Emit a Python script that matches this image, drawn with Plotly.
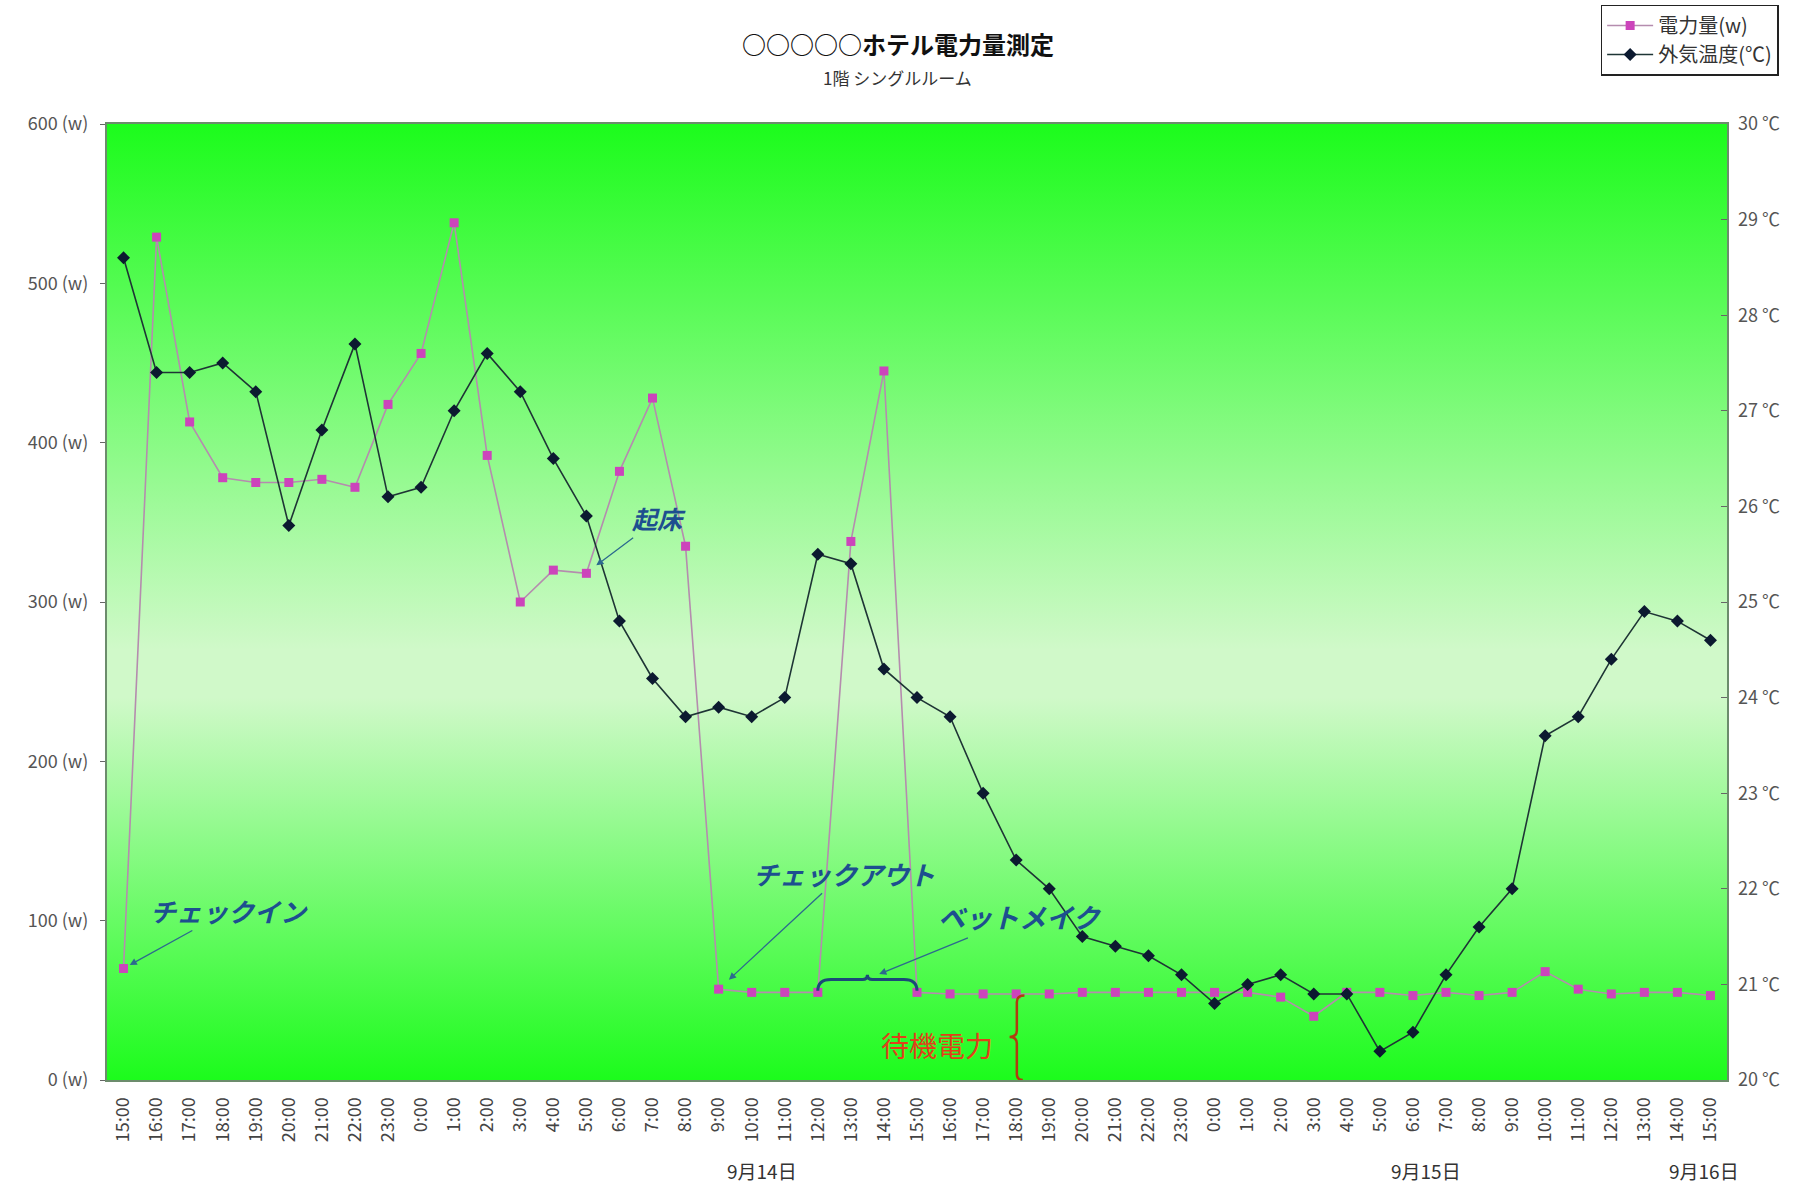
import base64
import plotly.graph_objects as go

# Hourly readings, 15:00 on 9/13 through 15:00 on 9/16
times = [
    "15:00", "16:00", "17:00", "18:00", "19:00", "20:00", "21:00", "22:00", "23:00",
    "0:00", "1:00", "2:00", "3:00", "4:00", "5:00", "6:00", "7:00", "8:00", "9:00",
    "10:00", "11:00", "12:00", "13:00", "14:00", "15:00", "16:00", "17:00", "18:00",
    "19:00", "20:00", "21:00", "22:00", "23:00", "0:00", "1:00", "2:00", "3:00",
    "4:00", "5:00", "6:00", "7:00", "8:00", "9:00", "10:00", "11:00", "12:00",
    "13:00", "14:00", "15:00",
]

# 電力量 (W)
power_w = [
    70, 529, 413, 378, 375, 375, 377, 372, 424,
    456, 538, 392, 300, 320, 318, 382, 428, 335, 57,
    55, 55, 55, 338, 445, 55, 54, 54, 54,
    54, 55, 55, 55, 55, 55, 55, 52, 40,
    55, 55, 53, 55, 53, 55, 68, 57, 54,
    55, 55, 53,
]

# 外気温度 (°C)
temp_c = [
    28.6, 27.4, 27.4, 27.5, 27.2, 25.8, 26.8, 27.7, 26.1,
    26.2, 27.0, 27.6, 27.2, 26.5, 25.9, 24.8, 24.2, 23.8, 23.9,
    23.8, 24.0, 25.5, 25.4, 24.3, 24.0, 23.8, 23.0, 22.3,
    22.0, 21.5, 21.4, 21.3, 21.1, 20.8, 21.0, 21.1, 20.9,
    20.9, 20.3, 20.5, 21.1, 21.6, 22.0, 23.6, 23.8, 24.4,
    24.9, 24.8, 24.6,
]

date_labels = ["9月14日", "9月15日", "9月16日"]

x = list(range(len(times)))
FONT = "Noto Sans CJK JP"
NOTE_BLUE = "#1d4f8f"

fig = go.Figure()

fig.add_trace(go.Scatter(
    x=x, y=power_w, name="電力量(w)", mode="lines+markers",
    line=dict(color="#b58cae", width=1.6),
    marker=dict(symbol="square", size=9, color="#cc44bb"),
))
fig.add_trace(go.Scatter(
    x=x, y=temp_c, name="外気温度(℃)", mode="lines+markers", yaxis="y2",
    line=dict(color="#1e3535", width=1.6),
    marker=dict(symbol="diamond", size=10, color="#0c1a30"),
))

# Plot-area background: green -> pale green -> green vertical gradient
svg = (
    '<svg xmlns="http://www.w3.org/2000/svg" width="100" height="100" '
    'preserveAspectRatio="none" viewBox="0 0 100 100">'
    '<defs><linearGradient id="g" x1="0" y1="0" x2="0" y2="1">'
    '<stop offset="0" stop-color="#1cfc1c"/>'
    '<stop offset="0.55" stop-color="#d0f9c9"/>'
    '<stop offset="0.6" stop-color="#d0f9c9"/>'
    '<stop offset="1" stop-color="#1cfc1c"/>'
    '</linearGradient></defs>'
    '<rect x="0" y="0" width="100" height="100" fill="url(#g)"/></svg>'
)
bg_src = "data:image/svg+xml;base64," + base64.b64encode(svg.encode()).decode()
fig.add_layout_image(dict(
    source=bg_src, xref="paper", yref="paper", x=0, y=1, sizex=1, sizey=1,
    sizing="stretch", xanchor="left", yanchor="top", layer="below",
))

# Brace over the bed-making hours and the standby-power brace
fig.add_shape(
    type="path", xref="x", yref="y",
    path="M 21,56 Q 21,63 21.4,63 L 22.35,63 Q 22.5,63 22.5,66 "
         "Q 22.5,63 22.65,63 L 23.6,63 Q 24,63 24,56",
    line=dict(color="#1b4a78", width=3),
)
fig.add_shape(
    type="path", xref="x", yref="y",
    path="M 27.25,53 Q 27.02,53 27.02,49 L 27.02,31 Q 27.02,27 26.8,27 "
         "Q 27.02,27 27.02,23 L 27.02,4 Q 27.02,0 27.2,0",
    line=dict(color="#b03c10", width=2.5),
)

notes = [
    dict(text="<b><i>チェックイン</i></b>", x=0, y=power_w[0], ax=105, ay=-58, standoff=7, size=26),
    dict(text="<b><i>起床</i></b>", x=14.3, y=323, ax=63, ay=-47, standoff=0, size=25),
    dict(text="<b><i>チェックアウト</i></b>", x=18, y=power_w[18], ax=125, ay=-116, standoff=14, size=26),
    dict(text="<b><i>ベットメイク</i></b>", x=22.8, y=66, ax=142, ay=-58, standoff=2, size=27),
]
for n in notes:
    fig.add_annotation(
        x=n["x"], y=n["y"], xref="x", yref="y", text=n["text"],
        ax=n["ax"], ay=n["ay"], showarrow=True, arrowhead=2, arrowsize=1.1,
        arrowwidth=1.3, arrowcolor="#2c6a8e", standoff=n["standoff"],
        font=dict(family=FONT, size=n["size"], color=NOTE_BLUE),
    )

fig.add_annotation(
    x=24.6, y=22, xref="x", yref="y", text="待機電力", showarrow=False,
    font=dict(family=FONT, size=28, color="#e0401a"),
)

# Date labels under the hour ticks
for label, pos in zip(date_labels, [19.3, 39.4, 47.8]):
    fig.add_annotation(
        x=pos, y=-0.095, xref="x", yref="paper", text=label, showarrow=False,
        xanchor="center", yanchor="middle",
        font=dict(family=FONT, size=19, color="#333333"),
    )

# Title and subtitle
fig.add_annotation(
    x=0.488, y=1.084, xref="paper", yref="paper", text="<b>○○○○○ホテル電力量測定</b>",
    showarrow=False, xanchor="center", yanchor="middle",
    font=dict(family=FONT, size=24, color="#111111"),
)
fig.add_annotation(
    x=0.488, y=1.049, xref="paper", yref="paper", text="1階 シングルルーム",
    showarrow=False, xanchor="center", yanchor="middle",
    font=dict(family=FONT, size=17, color="#333333"),
)

fig.update_layout(
    width=1797, height=1185,
    margin=dict(l=107, r=70, t=124, b=105, autoexpand=False),
    paper_bgcolor="white", plot_bgcolor="rgba(0,0,0,0)",
    font=dict(family=FONT, color="#444444"),
    showlegend=True,
    legend=dict(
        x=0.922, y=1.125, xanchor="left", yanchor="top",
        bgcolor="white", bordercolor="#222222", borderwidth=1.5,
        font=dict(family=FONT, size=20, color="#333333"),
        tracegroupgap=0, itemwidth=46,
    ),
    xaxis=dict(
        range=[-0.5, len(times) - 0.5], tickmode="array", tickvals=x, ticktext=times,
        tickangle=-90, showgrid=False, zeroline=False, ticks="",
        showline=True, mirror=True, linecolor="#6c8c6c", linewidth=2,
        ticklabelstandoff=8,
        tickfont=dict(family=FONT, size=18, color="#444444"),
    ),
    yaxis=dict(
        range=[0, 600], dtick=100, ticksuffix=" (w)", showgrid=False, zeroline=False,
        ticks="outside", ticklen=5, tickcolor="#666666", ticklabelstandoff=8,
        showline=True, mirror=True, linecolor="#6c8c6c", linewidth=2,
        tickfont=dict(family=FONT, size=18, color="#555555"),
    ),
    yaxis2=dict(
        range=[20, 30], dtick=1, ticksuffix=" ℃", overlaying="y", side="right",
        showgrid=False, zeroline=False, ticks="inside", ticklen=6, tickcolor="#666666",
        ticklabelstandoff=10,
        tickfont=dict(family=FONT, size=18, color="#555555"),
    ),
)

fig.write_html("out.html")
